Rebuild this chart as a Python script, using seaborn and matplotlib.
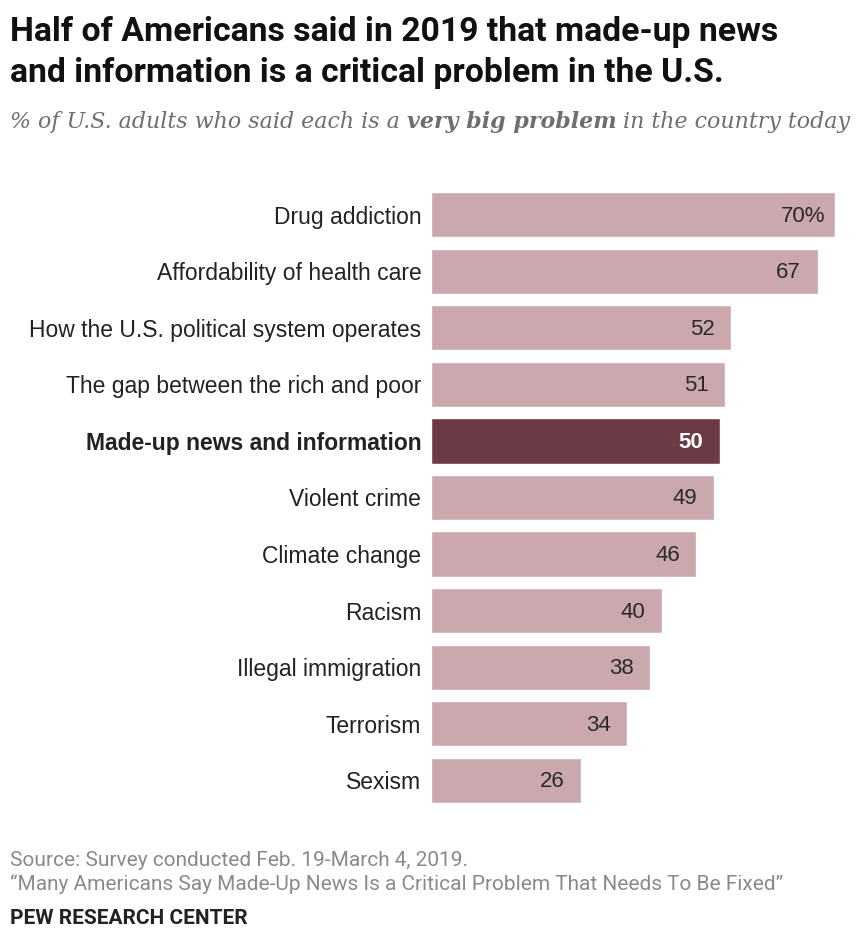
import matplotlib
matplotlib.use("Agg")
import matplotlib.pyplot as plt
import seaborn as sns
import pandas as pd

categories = ["Drug addiction", "Affordability of health care",
              "How the U.S. political system operates",
              "The gap between the rich and poor",
              "Made-up news and information", "Violent crime",
              "Climate change", "Racism", "Illegal immigration",
              "Terrorism", "Sexism"]
values = [70, 67, 52, 51, 50, 49, 46, 40, 38, 34, 26]
value_labels = ["70%", "67", "52", "51", "50", "49", "46", "40", "38", "34", "26"]
highlight = "Made-up news and information"

LIGHT = "#caa8ae"
DARK = "#6b3a44"

sns.set_theme(style="white")
plt.rcParams["font.family"] = ["Liberation Sans", "DejaVu Sans"]
head = "Roboto"

df = pd.DataFrame({"cat": categories, "val": values,
                   "hl": ["yes" if c == highlight else "no" for c in categories]})

fig = plt.figure(figsize=(8.56, 9.39), dpi=100)
ax = fig.add_axes([431 / 856, 1 - 803 / 939, 404 / 856, 611 / 939])
sns.barplot(data=df, x="val", y="cat", hue="hl", palette={"no": LIGHT, "yes": DARK},
            dodge=False, legend=False, width=0.8, ax=ax, saturation=1)
ax.set_xlim(0, 70)
ax.set_ylim(10.4, -0.4)
ax.set_xlabel("")
ax.set_ylabel("")
ax.set_xticks([])
ax.tick_params(axis="y", length=0, pad=7, labelsize=16.5, labelcolor="#222222")
for s in ax.spines.values():
    s.set_visible(False)
for lab in ax.get_yticklabels():
    if lab.get_text() == highlight:
        lab.set_fontweight("bold")

for i, (v, t) in enumerate(zip(values, value_labels)):
    is_hl = categories[i] == highlight
    off = -7 if t.endswith("%") else -12
    ax.annotate(t, xy=(v, i), xytext=(off, -1), textcoords="offset points",
                ha="right", va="center", fontsize=16,
                color="white" if is_hl else "#2a2a2a",
                fontweight="bold" if is_hl else "normal")

# title
fig.text(10 / 856, 1 - 32 / 939, "Half of Americans said in 2019 that made-up news",
         family=head, fontweight="bold", fontsize=24.3, color="#111111", va="center")
fig.text(10 / 856, 1 - 73 / 939, "and information is a critical problem in the U.S.",
         family=head, fontweight="bold", fontsize=24.3, color="#111111", va="center")

# subtitle with bold part
fig.canvas.draw()
r = fig.canvas.get_renderer()
x = 10 / 856
parts = [("% of U.S. adults who said each is a ", "normal"),
         ("very big problem", "bold"),
         (" in the country today", "normal")]
for txt, w in parts:
    t = fig.text(x, 1 - 122 / 939, txt, family=["DejaVu Serif"],
                 style="italic", fontweight=w, fontsize=15.9, color="#6e6e6e", va="center")
    bb = t.get_window_extent(renderer=r)
    x += bb.width / fig.bbox.width

fig.text(10 / 856, 1 - 860 / 939, "Source: Survey conducted Feb. 19-March 4, 2019.",
         family=head, fontsize=15, color="#8a8a8a", va="center")
fig.text(10 / 856, 1 - 884 / 939,
         "\u201cMany Americans Say Made-Up News Is a Critical Problem That Needs To Be Fixed\u201d",
         family=head, fontsize=15, color="#8a8a8a", va="center")
fig.text(10 / 856, 1 - 918 / 939, "PEW RESEARCH CENTER",
         family=head, fontsize=15, fontweight="bold", color="#222222", va="center")

fig.savefig("out.png", dpi=100, facecolor="white")
